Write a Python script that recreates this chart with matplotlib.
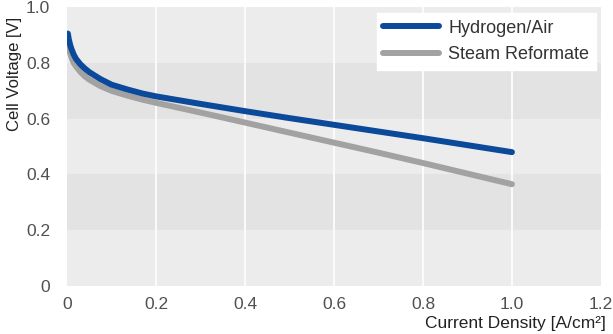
import matplotlib.pyplot as plt

plt.rcParams['font.family'] = ['Liberation Sans', 'DejaVu Sans']

# Data
current = [0.002, 0.004, 0.007, 0.01, 0.015, 0.02, 0.03, 0.04, 0.05, 0.075,
           0.1, 0.135, 0.17, 0.2, 0.3, 0.4, 0.5, 0.6, 0.7, 0.8, 0.9, 1.0]
hydrogen_air = [0.905, 0.885, 0.865, 0.85, 0.83, 0.815, 0.795, 0.78, 0.767, 0.742,
                0.722, 0.705, 0.69, 0.68, 0.653, 0.627, 0.602, 0.578, 0.554, 0.53,
                0.505, 0.48]
steam_reformate = [0.875, 0.855, 0.835, 0.82, 0.80, 0.788, 0.768, 0.752, 0.74, 0.717,
                   0.70, 0.683, 0.668, 0.657, 0.622, 0.586, 0.55, 0.514, 0.478, 0.441,
                   0.403, 0.365]
series_names = ["Hydrogen/Air", "Steam Reformate"]
xticks = [0, 0.2, 0.4, 0.6, 0.8, 1.0, 1.2]
xticklabels = ["0", "0.2", "0.4", "0.6", "0.8", "1.0", "1.2"]
yticks = [0, 0.2, 0.4, 0.6, 0.8, 1.0]
yticklabels = ["0", "0.2", "0.4", "0.6", "0.8", "1.0"]

BLUE = "#0b4a9b"
GREY = "#a2a2a2"
TEXT = "#505050"

fig = plt.figure(figsize=(6.13, 3.34), dpi=100)
ax = fig.add_axes([0.1093, 0.1437, 0.871, 0.835])
ax.set_facecolor("#ececec")

# alternating shaded bands
for lo, hi in [(0.2, 0.4), (0.6, 0.8)]:
    ax.axhspan(lo, hi, color="#e3e3e3", zorder=0, lw=0)
for x in xticks[1:-1]:
    ax.axvline(x, color="white", lw=1.2, zorder=1)

ax.plot(current, steam_reformate, color=GREY, lw=4.3, solid_capstyle="round",
        label=series_names[1], zorder=3)
ax.plot(current, hydrogen_air, color=BLUE, lw=4.3, solid_capstyle="round",
        label=series_names[0], zorder=4)

ax.set_xlim(0, 1.2)
ax.set_ylim(0, 1.0)
ax.set_xticks(xticks)
ax.set_xticklabels(xticklabels)
ax.set_yticks(yticks)
ax.set_yticklabels(yticklabels)
ax.tick_params(axis="x", length=0, labelsize=12.5, colors=TEXT, pad=8)
ax.tick_params(axis="y", length=0, labelsize=12.5, colors=TEXT, pad=12)
for s in ax.spines.values():
    s.set_visible(False)

ax.set_xlabel("Current Density [A/cm²]", fontsize=12.5, color="#222222",
              ha="right", va="top")
ax.xaxis.set_label_coords(1.01, -0.108)
ax.set_ylabel("Cell Voltage [V]", fontsize=12, color="#222222")
ax.yaxis.set_label_coords(-0.085, 0.76)

handles, labels = ax.get_legend_handles_labels()
leg = ax.legend(handles[::-1], labels[::-1], loc="upper right",
                bbox_to_anchor=(0.99, 0.978), frameon=True, fancybox=False,
                fontsize=13, handlelength=3.1, borderpad=0.35, labelspacing=0.55,
                handletextpad=0.5, borderaxespad=0)
leg.get_frame().set_facecolor("white")
leg.get_frame().set_edgecolor("white")
leg.get_frame().set_alpha(1)
for t in leg.get_texts():
    t.set_color("#333333")

fig.savefig("out.png", dpi=100)
